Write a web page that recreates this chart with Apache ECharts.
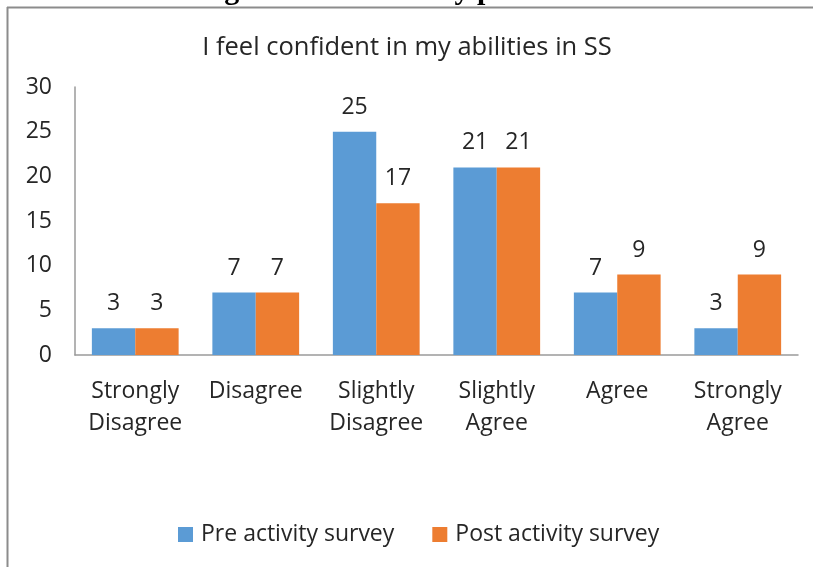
<!DOCTYPE html>
<html>
<head>
<meta charset="utf-8">
<script src="https://cdn.jsdelivr.net/npm/echarts@6/dist/echarts.min.js"></script>
<style>
html,body{margin:0;padding:0;background:#fff;}
#chart{width:814px;height:567px;}
</style>
</head>
<body>
<div id="chart"></div>
<script>
const categories = ['Strongly\nDisagree', 'Disagree', 'Slightly\nDisagree', 'Slightly\nAgree', 'Agree', 'Strongly\nAgree'];
const preValues = [3, 7, 25, 21, 7, 3];
const postValues = [3, 7, 17, 21, 9, 9];
const seriesNames = ['Pre activity survey', 'Post activity survey'];
const chartTitle = 'I feel confident in my abilities in SS';
const headingText = 'Figure B.5.3.: Survey parameter 1';

const FONT = '"Open Sans", sans-serif';
const chart = echarts.init(document.getElementById('chart'));
const labelCfg = {
  show: true, position: 'top', distance: 13,
  color: '#262626', fontFamily: FONT, fontSize: 23
};
chart.setOption({
  animation: false,
  backgroundColor: '#fff',
  title: {
    text: chartTitle, left: 'center', top: 30,
    textStyle: { color: '#262626', fontFamily: FONT, fontSize: 25.5, fontWeight: 'normal' }
  },
  legend: {
    data: seriesNames, bottom: 16, left: 173,
    itemWidth: 15, itemHeight: 15, itemGap: 38, icon: 'rect',
    textStyle: { color: '#262626', fontFamily: FONT, fontSize: 23, padding: [0, 0, 0, 3] }
  },
  grid: { left: 75, right: 16, top: 87, bottom: 212 },
  xAxis: {
    type: 'category', data: categories,
    axisLine: { lineStyle: { color: '#9a9a9a', width: 1.5 } },
    axisTick: { show: false },
    axisLabel: { color: '#262626', fontFamily: FONT, fontSize: 23, lineHeight: 32, margin: 20, interval: 0 }
  },
  yAxis: {
    type: 'value', min: 0, max: 30, interval: 5,
    axisLine: { show: true, lineStyle: { color: '#9a9a9a', width: 1.5 } },
    axisTick: { show: false },
    splitLine: { show: false },
    axisLabel: { color: '#262626', fontFamily: FONT, fontSize: 23, margin: 23 }
  },
  series: [
    { name: seriesNames[0], type: 'bar', data: preValues, barGap: '0%', barCategoryGap: '28%',
      itemStyle: { color: '#5B9BD5' }, label: labelCfg },
    { name: seriesNames[1], type: 'bar', data: postValues,
      itemStyle: { color: '#ED7D31' }, label: labelCfg }
  ],
  graphic: [
    { type: 'line', shape: { x1: 7, y1: 7.5, x2: 813, y2: 7.5 }, style: { stroke: '#8c8c8c', lineWidth: 2 }, z: 10 },
    { type: 'line', shape: { x1: 7.5, y1: 7, x2: 7.5, y2: 567 }, style: { stroke: '#8c8c8c', lineWidth: 2 }, z: 10 },
    { type: 'text', z: 11,
      style: { x: 416, y: -9, text: headingText, textAlign: 'center', textVerticalAlign: 'middle',
               font: 'bold 30px "Liberation Serif", serif', fill: '#000' } }
  ]
});
</script>
</body>
</html>
